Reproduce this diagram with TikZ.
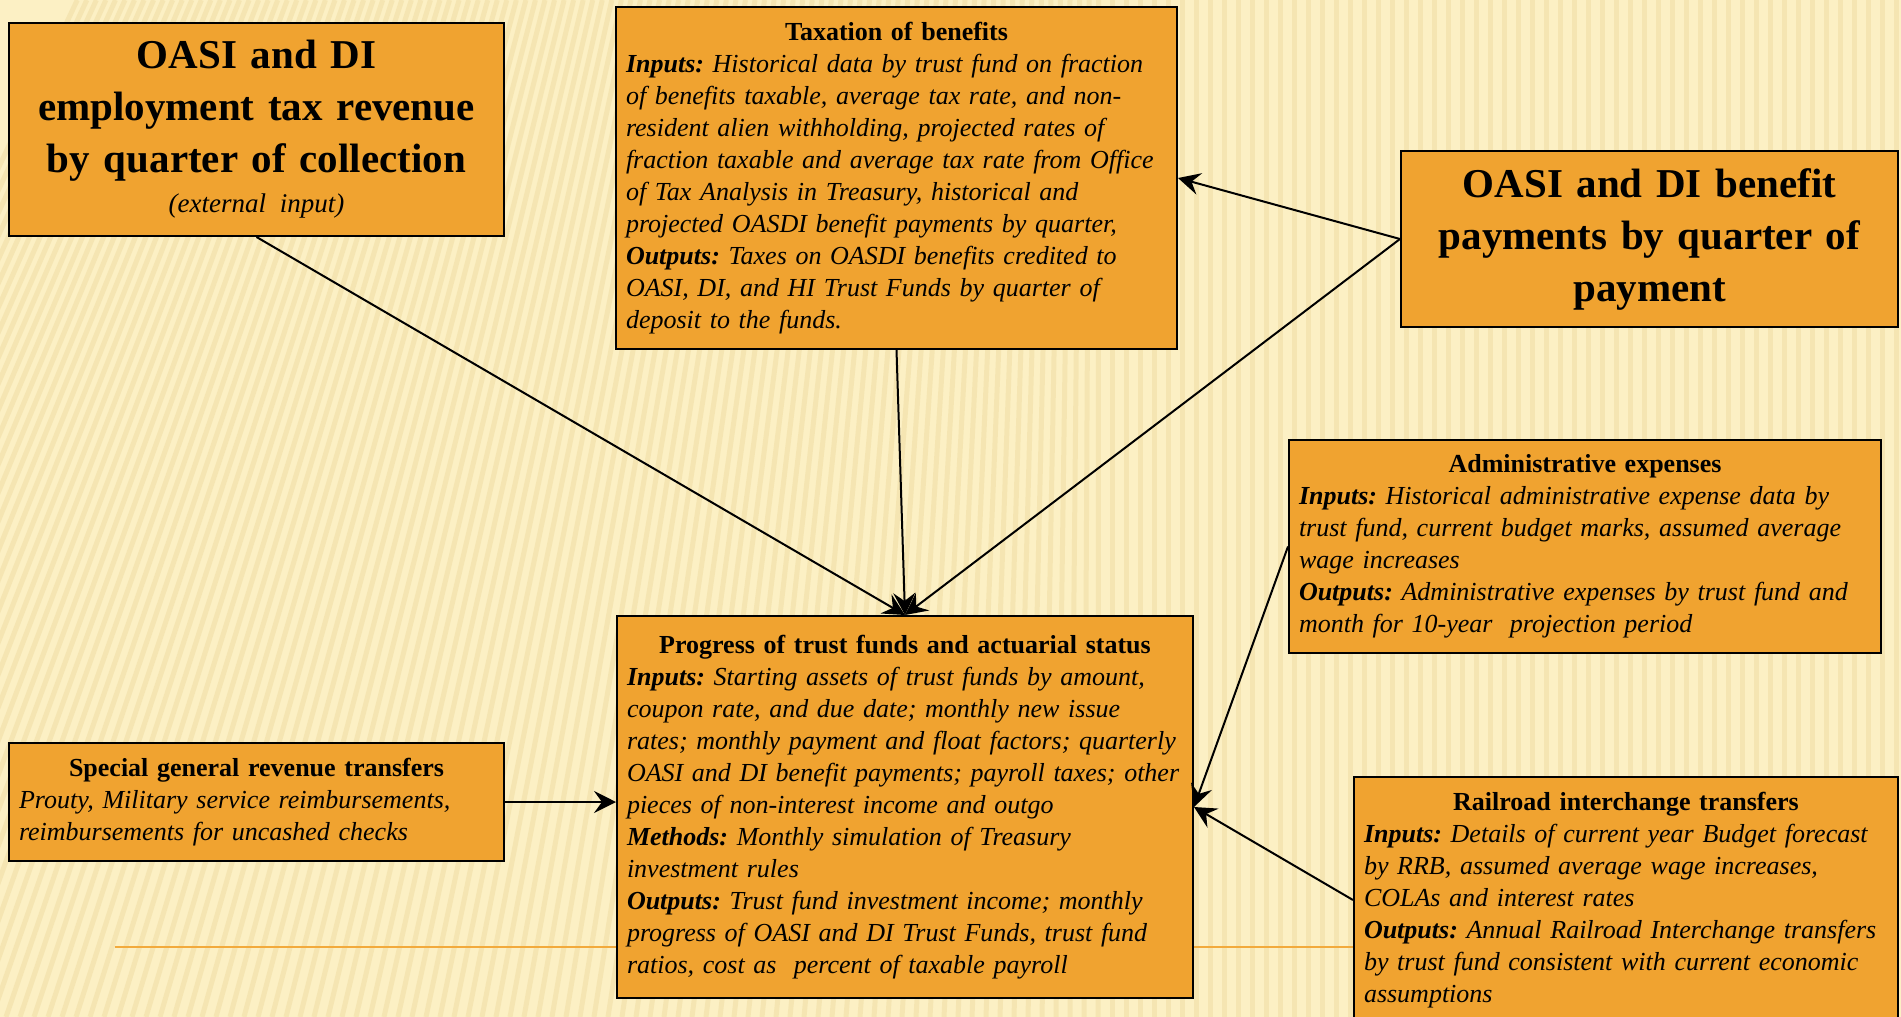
\documentclass[tikz,border=0pt]{standalone}
\usepackage{fontspec}
\setmainfont{Liberation Serif}
\usetikzlibrary{arrows.meta}
\definecolor{boxorange}{RGB}{240,163,48}
\definecolor{paleyellow}{RGB}{252,240,196}
\definecolor{stripetan}{RGB}{232,210,146}
\definecolor{ruleorange}{RGB}{242,170,60}
\frenchspacing

\begin{document}
\begin{tikzpicture}[x=0.5pt, y=-0.5pt,
box/.style={draw=black, line width=1pt, fill=boxorange, anchor=north west, inner xsep=5pt, inner ysep=4pt},
bigtext/.style={font=\fontsize{20.5}{26}\selectfont\bfseries, align=center},
smalltext/.style={font=\fontsize{13}{16}\selectfont\itshape, align=left},
flow/.style={line width=1pt, -{Stealth[length=11pt, width=11pt, inset=4pt]}}]
\useasboundingbox (0,0) rectangle (1901,1017);
\clip (0,0) rectangle (1901,1017);
% background
\fill[paleyellow] (0,0) rectangle (1901,1017);
\foreach \sx in {-400,-386,...,1910}{
  \pgfmathsetmacro{\stripeoff}{max(0,350*(1-\sx/1100))}
  \draw[stripetan, line width=2.5pt, opacity=0.35] (\sx,1017) -- ({\sx+\stripeoff},0);
}
\draw[ruleorange, line width=1pt] (115,947) -- (1400,947);

% boxes
\node[box, bigtext, text width=237.5pt, minimum height=106.5pt] (emp) at (8,22)
{OASI and DI\\ employment tax revenue\\ by quarter of collection\\[-6pt]
{\fontsize{13.5}{16}\selectfont\mdseries\itshape (external input)}};

\node[box, smalltext, text width=270.5pt, minimum height=171pt] (tax) at (615,6)
{\makebox[\hsize]{\upshape\bfseries Taxation of benefits}\\
\textbf{Inputs:} Historical data by trust fund on fraction\\
of benefits taxable, average tax rate, and non-\\
resident alien withholding, projected rates of\\
fraction taxable and average tax rate from Office\\
of Tax Analysis in Treasury, historical and\\
projected OASDI benefit payments by quarter,\\
\textbf{Outputs:} Taxes on OASDI benefits credited to\\
OASI, DI, and HI Trust Funds by quarter of\\
deposit to the funds.};

\node[box, bigtext, text width=238.5pt, minimum height=88pt] (ben) at (1400,150)
{OASI and DI benefit\\ payments by quarter of\\ payment};

\node[box, smalltext, text width=286pt, minimum height=106.5pt] (admin) at (1288,439)
{\makebox[\hsize]{\upshape\bfseries Administrative expenses}\\
\textbf{Inputs:} Historical administrative expense data by\\
trust fund, current budget marks, assumed average\\
wage increases\\
\textbf{Outputs:} Administrative expenses by trust fund and\\
month for 10-year~ projection period};

\node[box, smalltext, text width=278pt, minimum height=191pt] (prog) at (616,615)
{\makebox[\hsize]{\upshape\bfseries Progress of trust funds and actuarial status}\\
\textbf{Inputs:} Starting assets of trust funds by amount,\\
coupon rate, and due date; monthly new issue\\
rates; monthly payment and float factors; quarterly\\
OASI and DI benefit payments; payroll taxes; other\\
pieces of non-interest income and outgo\\
\textbf{Methods:} Monthly simulation of Treasury\\
investment rules\\
\textbf{Outputs:} Trust fund investment income; monthly\\
progress of OASI and DI Trust Funds, trust fund\\
ratios, cost as~ percent of taxable payroll};

\node[box, smalltext, text width=237.5pt, minimum height=59pt] (spec) at (8,742)
{\makebox[\hsize]{\upshape\bfseries Special general revenue transfers}\\
Prouty, Military service reimbursements,\\
reimbursements for uncashed checks};

\node[box, smalltext, text width=262pt, minimum height=123pt] (rail) at (1353,776)
{\makebox[\hsize]{\upshape\bfseries Railroad interchange transfers}\\
\textbf{Inputs:} Details of current year Budget forecast\\
by RRB, assumed average wage increases,\\
COLAs and interest rates\\
\textbf{Outputs:} Annual Railroad Interchange transfers\\
by trust fund consistent with current economic\\
assumptions};

% connectors
\draw[flow] (emp.south) -- (prog.north);
\draw[flow] (tax.south) -- (prog.north);
\draw[flow] (ben.west) -- (prog.north);
\draw[flow] (ben.west) -- (tax.east);
\draw[flow] (spec.east) -- (spec.east -| prog.west);
\draw[flow] (admin.west) -- (prog.east);
\draw[flow] (rail.west) -- (prog.east);
\end{tikzpicture}
\end{document}
